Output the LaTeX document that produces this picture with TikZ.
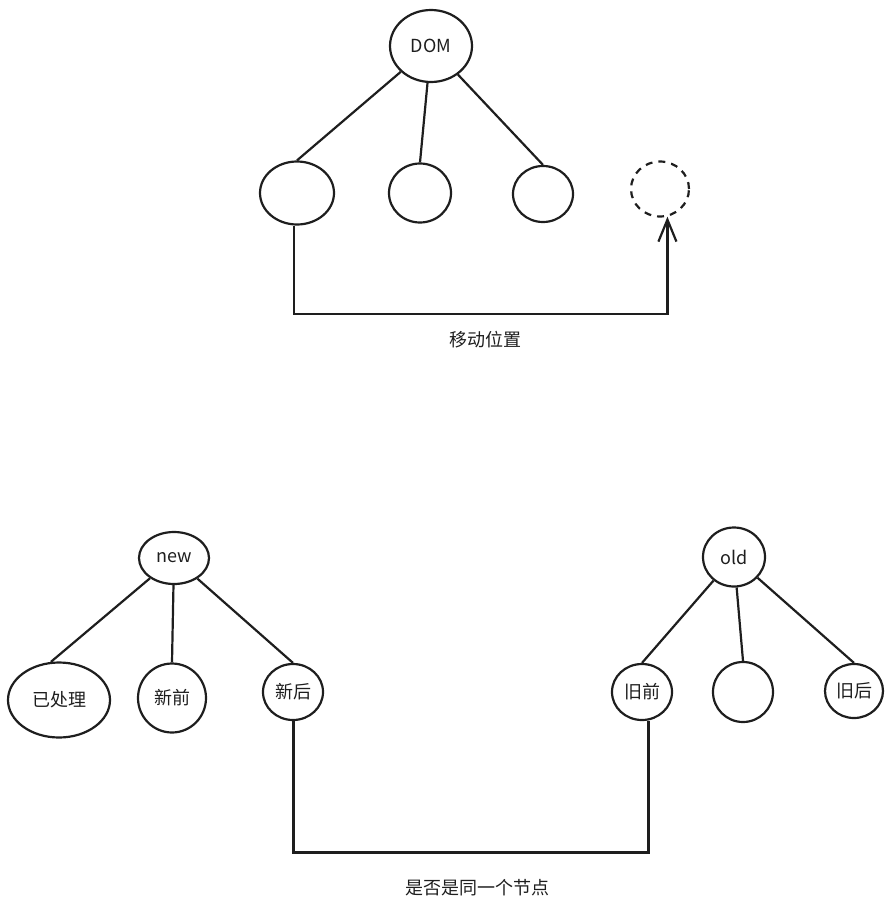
\documentclass[tikz,border=0pt]{standalone}
\usepackage{fontspec}
\newfontfamily\cjk{Noto Sans CJK SC}
\usetikzlibrary{shapes.geometric,arrows.meta}
\definecolor{ink}{HTML}{1E1E1E}
\tikzset{
  nd/.style={ellipse,draw=ink,line width=2.2pt,inner sep=0pt,font=\cjk\fontsize{18}{22}\selectfont,text=ink},
  ln/.style={draw=ink,line width=2.2pt},
  lbl/.style={font=\cjk\fontsize{18}{22}\selectfont,text=ink},
}
\begin{document}
\begin{tikzpicture}[x=1pt,y=-1pt]
\useasboundingbox (0,0) rectangle (894,913);
% top tree
\node[nd,minimum width=82pt,minimum height=72pt] (dom) at (431,46) {DOM};
\node[nd,minimum width=74pt,minimum height=63pt] (c1) at (297,193) {};
\node[nd,minimum width=62pt,minimum height=59pt] (c2) at (420,193) {};
\node[nd,minimum width=60pt,minimum height=56pt] (c3) at (543,194) {};
\node[nd,dash pattern=on 7pt off 6pt,minimum width=58pt,minimum height=55pt] (dh) at (660,189) {};
\draw[ln] (dom) -- (c1.north);
\draw[ln] (dom) -- (c2.north);
\draw[ln] (dom) -- (c3.north);
\draw[ln,-{Straight Barb[length=22pt,width=18pt]}] (c1.-95) -- (c1.-95 |- 0,314) -| (dh.-75);
\node[lbl] (t1) at (485,340) {移动位置};
% bottom left tree
\node[nd,minimum width=70pt,minimum height=52pt] (new) at (174,558) {new};
\node[nd,minimum width=102pt,minimum height=75pt] (p) at (59,700) {已处理};
\node[nd,minimum width=68pt,minimum height=69pt] (nq) at (172,698) {新前};
\node[nd,minimum width=60pt,minimum height=56pt] (nh) at (293,692) {新后};
\draw[ln] (new) -- (p.102);
\draw[ln] (new) -- (nq.north);
\draw[ln] (new) -- (nh.north);
% bottom right tree
\node[nd,minimum width=62pt,minimum height=59pt] (old) at (734,557) {old};
\node[nd,minimum width=60pt,minimum height=56pt] (oq) at (642,692) {旧前};
\node[nd,minimum width=60pt,minimum height=60pt] (om) at (743,692) {};
\node[nd,minimum width=58pt,minimum height=54pt] (oh) at (854,691) {旧后};
\draw[ln] (old) -- (oq.north);
\draw[ln] (old) -- (om.north);
\draw[ln] (old) -- (oh.north);
\draw[ln,line width=3pt] (nh.south) -- (nh.south |- 0,852) -| (oq.-78);
\node[lbl] (t2) at (477,888) {是否是同一个节点};
\end{tikzpicture}
\end{document}
